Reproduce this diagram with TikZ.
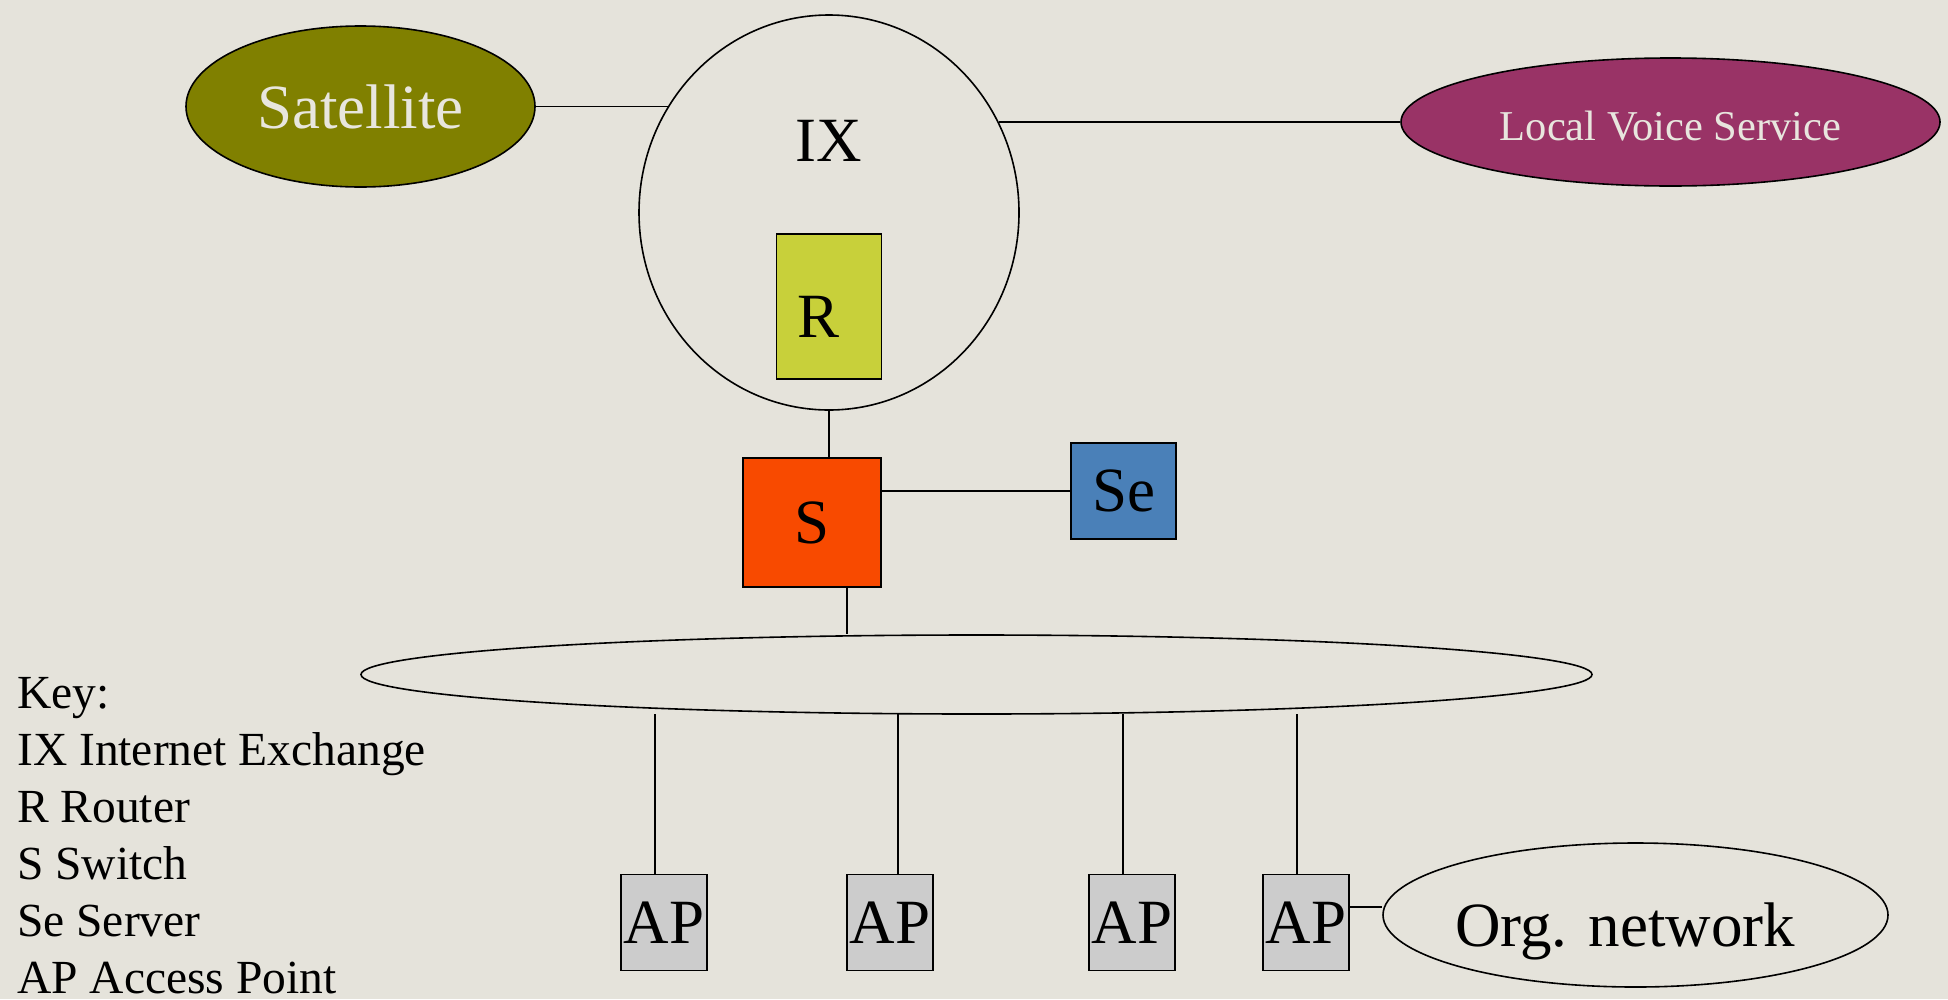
\documentclass[tikz,border=0pt]{standalone}
\usepackage{fontspec}
\setmainfont{Liberation Serif}
\usetikzlibrary{shapes.geometric}
\definecolor{bgc}{RGB}{229,227,219}
\definecolor{satc}{RGB}{128,128,0}
\definecolor{voicec}{RGB}{153,51,102}
\definecolor{rcol}{RGB}{200,208,58}
\definecolor{scol}{RGB}{248,74,0}
\definecolor{secol}{RGB}{74,128,184}
\definecolor{apcol}{RGB}{204,204,204}
\definecolor{lighttext}{RGB}{232,230,222}
\begin{document}
\begin{tikzpicture}[x=1pt,y=-1pt,
  conn/.style={line width=1.4pt},
  ell/.style={ellipse, draw, line width=1.6pt, inner sep=0pt},
  boxn/.style={rectangle, draw, line width=1.6pt, inner sep=0pt},
  bigfont/.style={font=\fontsize{63}{63}\selectfont},
  keytext/.style={font=\fontsize{47.5}{47.5}\selectfont, inner sep=0pt, anchor=base west},
  apbox/.style={boxn, fill=apcol, minimum width=86pt, minimum height=96pt, bigfont}]
\fill[bgc] (0,0) rectangle (1948,999);
\useasboundingbox (0,0) rectangle (1948,999);

\node[ell, fill=satc, text=lighttext, minimum width=349pt, minimum height=161pt, bigfont] (sat) at (360.5,106.5) {Satellite};
\node[ell, minimum width=380pt, minimum height=395pt, bigfont] (IX) at (829,212.5) {\raisebox{72pt}[\height][\depth]{IX}};
\node[ell, fill=voicec, text=lighttext, minimum width=539pt, minimum height=128pt, font=\fontsize{42.5}{42.5}\selectfont] (lvs) at (1670.5,122) {\raisebox{-4pt}[\height][\depth]{Local Voice Service}};
\node[boxn, fill=rcol, minimum width=105pt, minimum height=145pt, bigfont] (R) at (829,306.5) {\hspace*{-22pt}\raisebox{-10pt}[\height][\depth]{R}};
\node[boxn, fill=scol, minimum width=138pt, minimum height=129pt, bigfont] (S) at (812,522.5) {S};
\node[boxn, fill=secol, minimum width=105pt, minimum height=96pt, bigfont] (Se) at (1123.5,491) {Se};
\node[ell, minimum width=1231pt, minimum height=79pt] (bus) at (976.5,674.5) {};
\node[apbox] (AP1) at (664,922.5) {AP};
\node[apbox] (AP2) at (890,922.5) {AP};
\node[apbox] (AP3) at (1132,922.5) {AP};
\node[apbox] (AP4) at (1306,922.5) {AP};
\node[ell, minimum width=505pt, minimum height=144pt, bigfont] (org) at (1635.5,915) {\hspace*{-21pt}\raisebox{-16pt}[\height][\depth]{Org. network}};

\draw[conn] (sat.east) -- (sat.east -| IX.146);
\draw[conn] (IX.28 |- lvs.west) -- (lvs.west);
\draw[conn] (IX.south) -- (IX.south |- S.north);
\draw[conn] (S.east |- Se.west) -- (Se.west);
\draw[conn] ([xshift=35pt]S.south) -- ([xshift=35pt]S.south |- bus.north);
\coordinate (t1) at (655,714);
\coordinate (t2) at (898,714);
\coordinate (t3) at (1123,714);
\coordinate (t4) at (1297,714);
\draw[conn] (t1) -- (t1 |- AP1.north);
\draw[conn] (t2) -- (t2 |- AP2.north);
\draw[conn] (t3) -- (t3 |- AP3.north);
\draw[conn] (t4) -- (t4 |- AP4.north);
\coordinate (apo) at ([yshift=15.5pt]AP4.east);
\draw[conn] (apo) -- (apo -| org.west);

\node[keytext] (k1) at (17,708) {Key:};
\node[keytext] (k2) at (17,765) {IX Internet Exchange};
\node[keytext] (k3) at (17,822) {R Router};
\node[keytext] (k4) at (17,879) {S Switch};
\node[keytext] (k5) at (17,936) {Se Server};
\node[keytext] (k6) at (17,993) {AP Access Point};
\end{tikzpicture}
\end{document}
